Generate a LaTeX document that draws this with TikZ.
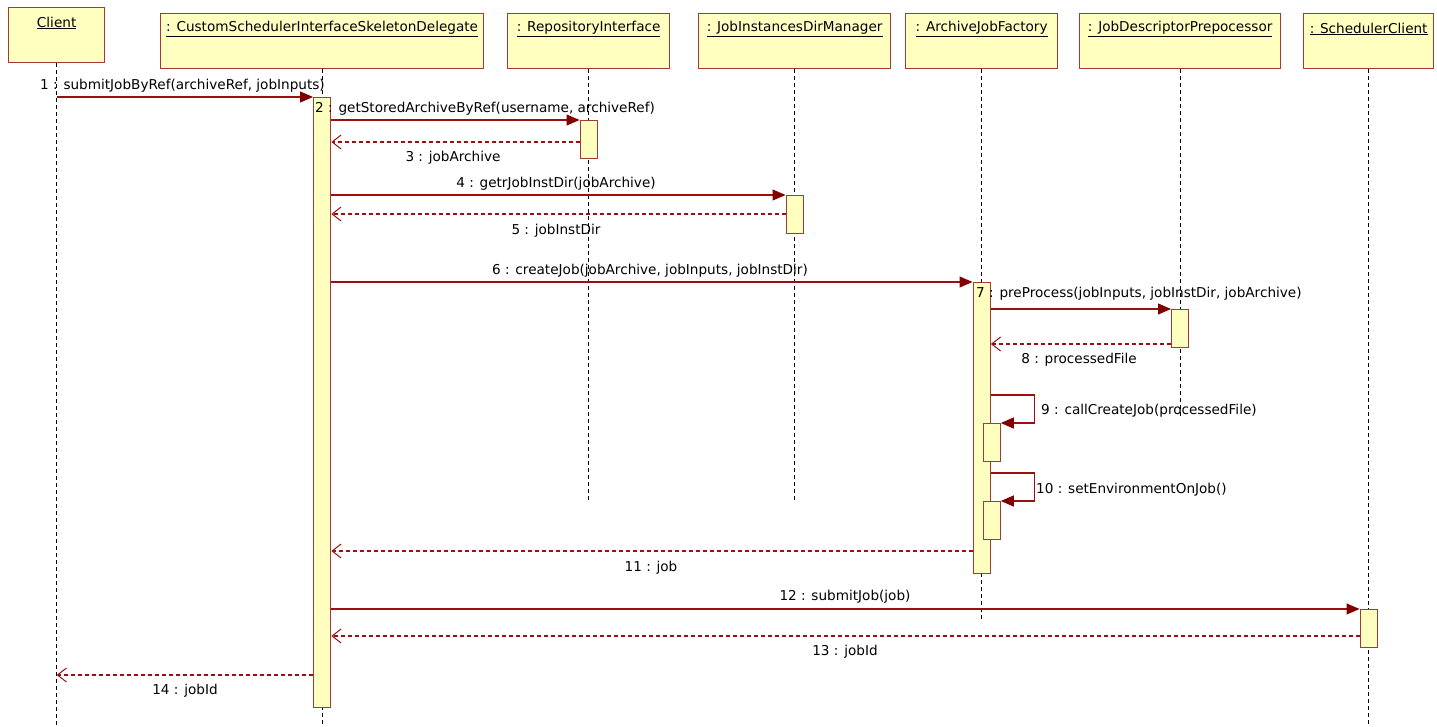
\documentclass[tikz,border=0pt]{standalone}
\usepackage{fontspec}
\setmainfont{DejaVu Sans}
\usetikzlibrary{arrows.meta}
\definecolor{msgline}{HTML}{9A1010}
\definecolor{msghead}{HTML}{800000}
\definecolor{frame}{HTML}{A33A3A}
\definecolor{paper}{HTML}{FFFFC0}
\tikzset{
  objbox/.style={draw=frame, fill=paper, line width=1.3pt, minimum height=55pt,
    inner sep=0pt, anchor=north west},
  objname/.style={font=\fontsize{13.6}{16}\selectfont, inner sep=0pt, anchor=center},
  lifeline/.style={draw=black, line width=1.2pt, dash pattern=on 4pt off 3pt},
  actbar/.style={draw=frame, fill=paper, line width=1.3pt, minimum width=17pt,
    inner sep=0pt, anchor=north},
  callmsg/.style={draw=msgline, line width=1.1pt,
    -{Triangle[length=13pt,width=11pt,fill=msghead,color=msghead]}},
  retmsg/.style={draw=msgline, line width=1.1pt, dash pattern=on 4pt off 3pt,
    -{Straight Barb[length=9pt,width=14pt,color=msgline,line width=1pt]}},
  msgtext/.style={font=\fontsize{13.6}{16}\selectfont, inner sep=0pt}
}
\begin{document}
\begin{tikzpicture}[x=1pt,y=-1pt]
\useasboundingbox (0,0) rectangle (1437,727);

% participants
\node[objbox, minimum width=96pt]  (client) at (8,7)    {};
\node[objbox, minimum width=323pt] (deleg)  at (160,13) {};
\node[objbox, minimum width=162pt] (repo)   at (507,13) {};
\node[objbox, minimum width=192pt] (jidm)   at (698,13) {};
\node[objbox, minimum width=152pt] (ajf)    at (905,13) {};
\node[objbox, minimum width=201pt] (jdp)    at (1079,13) {};
\node[objbox, minimum width=130pt] (sched)  at (1303,13) {};

\node[objname] (clientname) at (client.north |- 0,23) {\underline{Client}};
\node[objname] (delegname)  at (deleg.north  |- 0,29) {\underline{: CustomSchedulerInterfaceSkeletonDelegate}};
\node[objname] (reponame)   at (repo.north   |- 0,29) {\underline{: RepositoryInterface}};
\node[objname] (jidmname)   at (jidm.north   |- 0,29) {\underline{: JobInstancesDirManager}};
\node[objname] (ajfname)    at (ajf.north    |- 0,29) {\underline{: ArchiveJobFactory}};
\node[objname] (jdpname)    at (jdp.north    |- 0,29) {\underline{: JobDescriptorPrepocessor}};
\node[objname] (schedname)  at (sched.north  |- 0,29) {\underline{: SchedulerClient}};

% lifelines
\coordinate (clientend) at (client.south |- 0,727);
\coordinate (delegend)  at (deleg.south  |- 0,727);
\coordinate (repoend)   at (repo.south   |- 0,501);
\coordinate (jidmend)   at (jidm.south   |- 0,501);
\coordinate (ajfend)    at (ajf.south    |- 0,621);
\coordinate (jdpend)    at (jdp.south    |- 0,417);
\coordinate (schedend)  at (sched.south  |- 0,727);
\draw[lifeline] (client.south) -- (clientend);
\draw[lifeline] (deleg.south)  -- (delegend);
\draw[lifeline] (repo.south)   -- (repoend);
\draw[lifeline] (jidm.south)   -- (jidmend);
\draw[lifeline] (ajf.south)    -- (ajfend);
\draw[lifeline] (jdp.south)    -- (jdpend);
\draw[lifeline] (sched.south)  -- (schedend);

% activation bars
\node[actbar, minimum height=610pt] (bd) at (deleg.south |- 0,97)  {};
\node[actbar, minimum height=38pt]  (br) at (repo.south  |- 0,120) {};
\node[actbar, minimum height=38pt]  (bj) at (jidm.south  |- 0,195) {};
\node[actbar, minimum height=291pt] (ba) at (ajf.south   |- 0,282) {};
\node[actbar, minimum height=38pt]  (bp) at (jdp.south   |- 0,309) {};
\node[actbar, minimum height=38pt]  (bs1) at ([xshift=10pt]ba.north |- 0,423) {};
\node[actbar, minimum height=38pt]  (bs2) at ([xshift=10pt]ba.north |- 0,501) {};
\node[actbar, minimum height=38pt]  (bc) at (sched.south |- 0,609) {};

% messages
\draw[callmsg] (client.south |- 0,97) -- (bd.north west);
\draw[callmsg] (bd.east |- 0,120) -- (br.north west);
\draw[retmsg]  (br.west |- 0,142) -- (bd.east |- 0,142);
\draw[callmsg] (bd.east |- 0,195) -- (bj.north west);
\draw[retmsg]  (bj.west |- 0,214) -- (bd.east |- 0,214);
\draw[callmsg] (bd.east |- 0,282) -- (ba.north west);
\draw[callmsg] (ba.east |- 0,309) -- (bp.north west);
\draw[retmsg]  (bp.west |- 0,344) -- (ba.east |- 0,344);
\draw[callmsg] (ba.east |- 0,395) -- ++(44,0) |- (bs1.north east);
\draw[callmsg] (ba.east |- 0,473) -- ++(44,0) |- (bs2.north east);
\draw[retmsg]  (ba.west |- 0,551) -- (bd.east |- 0,551);
\draw[callmsg] (bd.east |- 0,609) -- (bc.north west);
\draw[retmsg]  (bc.west |- 0,636) -- (bd.east |- 0,636);
\draw[retmsg]  (bd.west |- 0,675) -- (client.south |- 0,675);

% message labels
\node[msgtext, anchor=west] (m1)  at (40,86)   {1 : submitJobByRef(archiveRef, jobInputs)};
\node[msgtext, anchor=west] (m2)  at (315,109) {2 : getStoredArchiveByRef(username, archiveRef)};
\node[msgtext] (m3)  at (453,158) {3 : jobArchive};
\node[msgtext] (m4)  at (556,184) {4 : getrJobInstDir(jobArchive)};
\node[msgtext] (m5)  at (556,231) {5 : jobInstDir};
\node[msgtext] (m6)  at (650,271) {6 : createJob(jobArchive, jobInputs, jobInstDir)};
\node[msgtext, anchor=west] (m7)  at (976,294) {7 : preProcess(jobInputs, jobInstDir, jobArchive)};
\node[msgtext] (m8)  at (1079,360) {8 : processedFile};
\node[msgtext, anchor=west] (m9)  at (1041,411) {9 : callCreateJob(processedFile)};
\node[msgtext, anchor=west] (m10) at (1036,490) {10 : setEnvironmentOnJob()};
\node[msgtext] (m11) at (651,568) {11 : job};
\node[msgtext] (m12) at (845,597) {12 : submitJob(job)};
\node[msgtext] (m13) at (845,652) {13 : jobId};
\node[msgtext] (m14) at (185,691) {14 : jobId};
\end{tikzpicture}
\end{document}
